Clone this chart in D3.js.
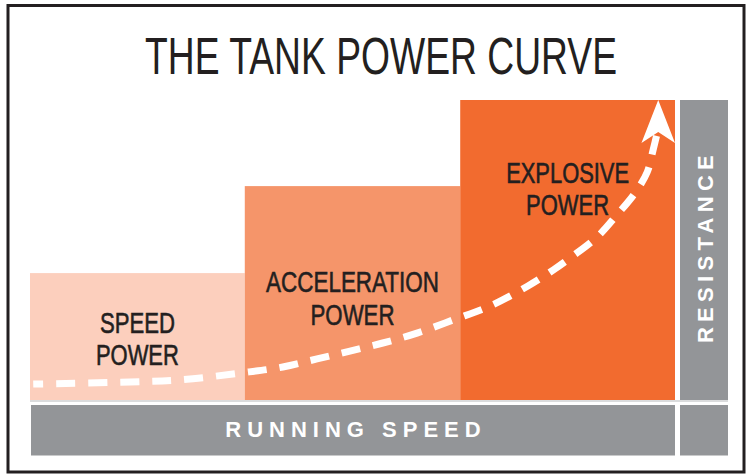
<!DOCTYPE html>
<html>
<head>
<meta charset="utf-8">
<script src="https://cdn.jsdelivr.net/npm/d3@7"></script>
<style>
  body { margin: 0; background: #fff; }
  svg text { font-family: "Liberation Sans Narrow", "Liberation Sans", Arial, sans-serif; }
</style>
</head>
<body>
<div id="chart"></div>
<script>
// zones along running speed (percent of max speed) and their power level (percent)
var zoneNames = [["SPEED", "POWER"], ["ACCELERATION", "POWER"], ["EXPLOSIVE", "POWER"]];
var zoneStart = [0, 33.3, 66.7];
var zoneEnd = [33.3, 66.7, 100];
var zonePower = [42.3, 71.3, 100];
var zoneColors = ["#fccfbd", "#f5956a", "#f26b2f"];
// label widths (condensed type)
var labelWidths = [[75, 83], [173, 84], [123, 83]];
var labelBase = [[333, 365], [292, 325], [183, 215]];

// the dashed power curve, speed % vs power %
var curveSpeed = [0.5, 15.5, 23.3, 32.6, 39.2, 44.5, 49.6, 54.7, 60.0, 65.6, 71.3, 77.2, 81.1, 83.7, 87.9, 91.0, 93.8, 95.7, 96.6, 97.3];
var curvePower = [5.3, 6.0, 6.7, 9.0, 11.0, 13.7, 16.3, 19.0, 22.3, 26.7, 31.3, 38.0, 43.3, 47.3, 54.3, 61.7, 69.0, 76.0, 83.3, 89.5];
// arrow head: tip, left, notch, right
var arrowSpeed = [97.4, 94.8, 97.4, 100];
var arrowPower = [100, 85.7, 89.3, 85.7];

var width = 752, height = 474;
var svg = d3.select("#chart").append("svg")
    .attr("width", width)
    .attr("height", height);

var x = d3.scaleLinear().domain([0, 100]).range([30, 675]);
var y = d3.scaleLinear().domain([0, 100]).range([400, 100]);

// squeeze a text horizontally to the width it has in the picture
function fitText(sel, cx, by, w) {
    var natural = sel.node().getComputedTextLength();
    var sx = w / natural;
    sel.attr("x", 0).attr("y", 0)
        .attr("transform", "translate(" + cx + "," + by + ") scale(" + sx + ",1)");
}

// outer frame
svg.append("rect")
    .attr("x", 8).attr("y", 5.5)
    .attr("width", 736).attr("height", 466.5)
    .style("fill", "none")
    .style("stroke", "#231f20")
    .style("stroke-width", 3);

// title
var title = svg.append("text")
    .attr("text-anchor", "middle")
    .style("font-size", "51px")
    .style("fill", "#231f20")
    .text("THE TANK POWER CURVE");
fitText(title, 381, 73.5, 472);

// zone boxes
svg.selectAll(".zone")
    .data(zoneNames)
    .enter()
    .append("rect")
    .attr("class", "zone")
    .attr("x", (d, i) => x(zoneStart[i]))
    .attr("y", (d, i) => y(zonePower[i]))
    .attr("width", (d, i) => x(zoneEnd[i]) - x(zoneStart[i]))
    .attr("height", (d, i) => y(0) - y(zonePower[i]))
    .style("fill", (d, i) => zoneColors[i]);

// zone labels
zoneNames.forEach(function (lines, i) {
    var cx = (x(zoneStart[i]) + x(zoneEnd[i])) / 2;
    lines.forEach(function (line, j) {
        var t = svg.append("text")
            .attr("text-anchor", "middle")
            .style("font-size", "29px")
            .style("fill", "#231f20")
            .style("stroke", "#231f20")
            .style("stroke-width", 0.6)
            .text(line);
        fitText(t, cx, labelBase[i][j], labelWidths[i][j]);
    });
});

// resistance column
svg.append("rect")
    .attr("x", 680).attr("y", y(100))
    .attr("width", 48).attr("height", y(0) - y(100))
    .style("fill", "#939598");

// thin separator under the boxes
svg.append("line")
    .attr("x1", x(0)).attr("x2", 728)
    .attr("y1", 401).attr("y2", 401)
    .style("stroke", "#cfd0d2")
    .style("stroke-width", 1.5);

// running speed bar + corner square
svg.append("rect")
    .attr("x", x(0) + 1).attr("y", 405)
    .attr("width", x(100) - x(0) - 1).attr("height", 50.5)
    .style("fill", "#939598");
svg.append("rect")
    .attr("x", 680).attr("y", 405)
    .attr("width", 48).attr("height", 50.5)
    .style("fill", "#939598");

svg.append("text")
    .attr("x", 356).attr("y", 437)
    .attr("text-anchor", "middle")
    .style("font-size", "22px")
    .style("font-weight", "bold")
    .style("letter-spacing", "6px")
    .style("fill", "#fff")
    .text("RUNNING SPEED");

svg.append("text")
    .attr("transform", "translate(713,246.5) rotate(-90)")
    .attr("text-anchor", "middle")
    .style("font-size", "22px")
    .style("font-weight", "bold")
    .style("letter-spacing", "5.3px")
    .style("fill", "#fff")
    .text("RESISTANCE");

// dashed curve
var line = d3.line()
    .x((d, i) => x(curveSpeed[i]))
    .y((d, i) => y(curvePower[i]))
    .curve(d3.curveCatmullRom);

svg.append("path")
    .datum(curveSpeed)
    .attr("d", line)
    .style("fill", "none")
    .style("stroke", "#fff")
    .style("stroke-width", 7)
    .style("stroke-dasharray", "19,13")
    .style("stroke-dashoffset", 9);

svg.append("path")
    .datum(arrowSpeed)
    .attr("d", d3.line().x((d, i) => x(arrowSpeed[i])).y((d, i) => y(arrowPower[i])).curve(d3.curveLinearClosed))
    .style("fill", "#fff");
</script>
</body>
</html>
